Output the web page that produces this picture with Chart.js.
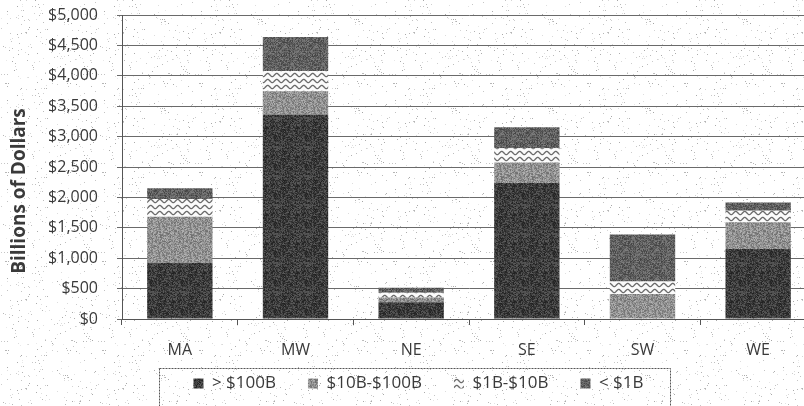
<!DOCTYPE html>
<html>
<head>
<meta charset="utf-8">
<script src="https://cdn.jsdelivr.net/npm/chart.js@4.4.1/dist/chart.umd.min.js"></script>
<style>
  html, body { margin: 0; padding: 0; background: #fff; overflow: hidden; }
  #wrap { width: 829px; height: 420px; }
</style>
</head>
<body>
<div id="wrap"><canvas id="chart" width="829" height="420"></canvas></div>
<script>
// Data (billions of dollars)
const regions = ['MA', 'MW', 'NE', 'SE', 'SW', 'WE'];
const over100B = [925, 3365, 275, 2235, 0, 1150];
const from10To100B = [755, 380, 80, 340, 410, 440];
const from1To10B = [295, 335, 75, 235, 205, 190];
const under1B = [175, 560, 85, 345, 775, 135];
const seriesNames = ['> $100B', '$10B-$100B', '$1B-$10B', '< $1B'];
const yTicks = [0, 500, 1000, 1500, 2000, 2500, 3000, 3500, 4000, 4500, 5000];

const canvas = document.getElementById('chart');
const ctx = canvas.getContext('2d');

// deterministic hash for the scanned-paper grain
function hash(x, y) {
    let h = Math.imul(x, 374761393) + Math.imul(y, 668265263) | 0;
    h = Math.imul(h ^ (h >>> 13), 1274126177);
    return (h ^ (h >>> 16)) >>> 0;
}

function grainPattern(base, spread, seed) {
    const c = document.createElement('canvas');
    c.width = 31; c.height = 29;
    const g = c.getContext('2d');
    const img = g.createImageData(c.width, c.height);
    for (let y = 0; y < c.height; y++) {
        for (let x = 0; x < c.width; x++) {
            const n = (hash(x + seed, y * 3 + seed) % (spread * 2 + 1)) - spread;
            const v = Math.max(0, Math.min(255, base + n));
            const i = (y * c.width + x) * 4;
            img.data[i] = img.data[i + 1] = img.data[i + 2] = v;
            img.data[i + 3] = 255;
        }
    }
    g.putImageData(img, 0, 0);
    return ctx.createPattern(c, 'repeat');
}

function wavePattern() {
    const c = document.createElement('canvas');
    c.width = 9; c.height = 6;
    const g = c.getContext('2d');
    g.fillStyle = '#fbfbfb';
    g.fillRect(0, 0, 9, 6);
    g.strokeStyle = '#6a6a6a';
    g.lineWidth = 1.3;
    g.beginPath();
    for (let x = -1; x <= 10; x += 0.5) {
        const y = 3 + 1.6 * Math.sin(2 * Math.PI * x / 9);
        if (x === -1) g.moveTo(x, y); else g.lineTo(x, y);
    }
    g.stroke();
    return ctx.createPattern(c, 'repeat');
}

function speckle() {
    const c = document.createElement('canvas');
    c.width = 97; c.height = 89;
    const g = c.getContext('2d');
    g.fillStyle = '#ffffff';
    g.fillRect(0, 0, c.width, c.height);
    for (let y = 0; y < c.height; y++) {
        for (let x = 0; x < c.width; x++) {
            const h = hash(x + 7, y + 11);
            if (h % 1000 < 28) {
                const v = 165 + (h >>> 10) % 70;
                g.fillStyle = `rgb(${v},${v},${v})`;
                g.fillRect(x, y, 1, 1);
            }
        }
    }
    return ctx.createPattern(c, 'repeat');
}

const fills = [grainPattern(62, 30, 1), grainPattern(145, 35, 5), wavePattern(), grainPattern(96, 30, 9)];
const paper = speckle();
const inkColor = '#3a3a3a';
const fontFamily = "'Open Sans', 'Liberation Sans', sans-serif";

const paperBackground = {
    id: 'paperBackground',
    beforeDraw(chart) {
        const c = chart.ctx;
        c.save();
        c.fillStyle = paper;
        c.fillRect(0, 0, chart.width, chart.height);
        c.restore();
    }
};

// y title sits a bit below the axis middle in the original, so draw it by hand
const axisTitle = {
    id: 'axisTitle',
    afterDraw(chart) {
        const c = chart.ctx;
        c.save();
        c.translate(20, 191);
        c.rotate(-Math.PI / 2);
        c.font = `bold 19px ${fontFamily}`;
        c.fillStyle = inkColor;
        c.textAlign = 'center';
        c.textBaseline = 'middle';
        c.fillText('Billions of Dollars', 0, 0);
        c.restore();
    }
};

// dotted frame round the legend
const legendFrame = {
    id: 'legendFrame',
    afterDraw(chart) {
        const boxes = chart.legend.legendHitBoxes;
        if (!boxes || !boxes.length) return;
        const last = boxes[boxes.length - 1];
        const left = boxes[0].left - 34;
        const right = last.left + last.width + 27;
        const top = boxes[0].top - 7;
        const c = chart.ctx;
        c.save();
        c.strokeStyle = '#555';
        c.lineWidth = 1;
        c.setLineDash([2, 1]);
        c.strokeRect(Math.round(left) + 0.5, Math.round(top) + 0.5, Math.round(right - left), chart.height);
        c.restore();
    }
};

const seriesData = [over100B, from10To100B, from1To10B, under1B];

new Chart(ctx, {
    type: 'bar',
    data: {
        labels: regions,
        datasets: seriesData.map((values, i) => ({
            label: seriesNames[i],
            data: values,
            backgroundColor: fills[i],
            borderWidth: 0,
            barPercentage: 0.565,
            categoryPercentage: 1
        }))
    },
    options: {
        responsive: false,
        animation: false,
        devicePixelRatio: 1,
        layout: { padding: { top: 15, right: 13, left: 21, bottom: 18 } },
        plugins: {
            legend: {
                position: 'bottom',
                labels: {
                    boxWidth: 10,
                    boxHeight: 10,
                    padding: 15,
                    color: inkColor,
                    font: { family: fontFamily, size: 17 },
                    // extra gap between entries, legend padding also sets its height
                    generateLabels: (chart) => {
                        const items = Chart.defaults.plugins.legend.labels.generateLabels(chart);
                        return items.map((item, i) => ({
                            ...item,
                            text: i < items.length - 1 ? item.text + '\u2002\u2002' : item.text
                        }));
                    }
                }
            },
            tooltip: { enabled: false }
        },
        scales: {
            x: {
                stacked: true,
                grid: {
                    display: true,
                    drawOnChartArea: false,
                    offset: true,
                    tickLength: 6,
                    color: '#555'
                },
                border: { color: '#555' },
                ticks: {
                    padding: 16,
                    color: inkColor,
                    font: { family: fontFamily, size: 16 }
                },
                afterFit: (scale) => { scale.height = 41; }
            },
            y: {
                stacked: true,
                min: 0,
                max: 5000,
                afterBuildTicks: (scale) => { scale.ticks = yTicks.map(v => ({ value: v })); },
                grid: { color: '#6a6a6a', tickLength: 5 },
                border: { color: '#555' },
                ticks: {
                    padding: 19,
                    color: inkColor,
                    font: { family: fontFamily, size: 16 },
                    callback: (v) => '$' + v.toLocaleString('en-US')
                },
                afterFit: (scale) => {
                    scale.width = 101;
                    scale.paddingTop = 0;
                    scale.paddingBottom = 0;
                }
            }
        }
    },
    plugins: [paperBackground, axisTitle, legendFrame]
});
</script>
</body>
</html>
